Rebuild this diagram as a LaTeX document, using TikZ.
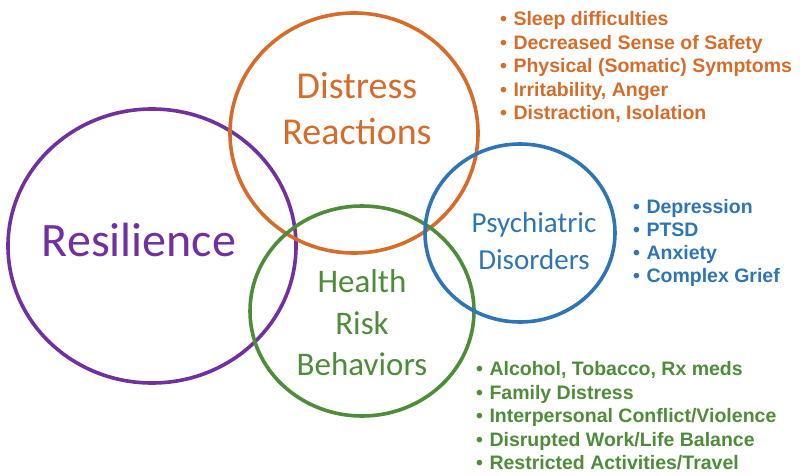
\documentclass[tikz,border=0pt]{standalone}
\usepackage{fontspec}
\setmainfont{Carlito}
\newfontfamily\listfont{Liberation Sans}
\usepackage{xcolor}
\usepackage{tikz}
\usetikzlibrary{positioning,shapes.geometric}
\definecolor{resviolet}{RGB}{112,48,160}
\definecolor{distorange}{RGB}{214,108,42}
\definecolor{healthgreen}{RGB}{78,140,58}
\definecolor{psyblue}{RGB}{46,117,182}
\newcommand{\bul}{\textbullet\hspace{6.5pt}}

\begin{document}
\begin{tikzpicture}[x=1pt, y=-1pt,
  ring/.style={draw, ellipse, line width=3.6pt, inner sep=0pt},
  title/.style={align=center, inner sep=0pt},
  itemlist/.style={align=left, anchor=west, inner sep=0pt, font=\listfont\bfseries\fontsize{19.5}{23.5}\selectfont}
]
\useasboundingbox (0,0) rectangle (800,476);

% Circles
\node[ring, resviolet, minimum width=288pt, minimum height=274pt] (resil) at (152,246) {};
\node[ring, distorange, minimum width=248pt, minimum height=240pt] (distress) at (354,133) {};
\node[ring, healthgreen, minimum width=224pt, minimum height=210pt] (health) at (362,311) {};
\node[ring, psyblue, minimum width=190pt, minimum height=178pt] (psych) at (520,233) {};

% Circle titles
\node[title, resviolet, font=\fontsize{48}{56}\selectfont] (resiltxt) at (139,240) {Resilience};
\node[title, distorange, font=\fontsize{38}{46}\selectfont] (distresstxt) at (357,109) {Distress\\Reactions};
\node[title, healthgreen, font=\fontsize{33}{41.5}\selectfont] (healthtxt) at (362,323) {Health\\Risk\\Behaviors};
\node[title, psyblue, font=\fontsize{29}{37}\selectfont] (psychtxt) at (534,241) {Psychiatric\\Disorders};

% Lists
\node[itemlist, distorange] (distresslist) at (500,67) {\bul Sleep difficulties\\\bul Decreased Sense of Safety\\\bul Physical (Somatic) Symptoms\\\bul Irritability, Anger\\\bul Distraction, Isolation};
\node[itemlist, psyblue, font=\listfont\bfseries\fontsize{19.5}{22.8}\selectfont] (psychlist) at (633,243) {\bul Depression\\\bul PTSD\\\bul Anxiety\\\bul Complex Grief};
\node[itemlist, healthgreen] (healthlist) at (476,416) {\bul Alcohol, Tobacco, Rx meds\\\bul Family Distress\\\bul Interpersonal Conflict/Violence\\\bul Disrupted Work/Life Balance\\\bul Restricted Activities/Travel};

\end{tikzpicture}
\end{document}
